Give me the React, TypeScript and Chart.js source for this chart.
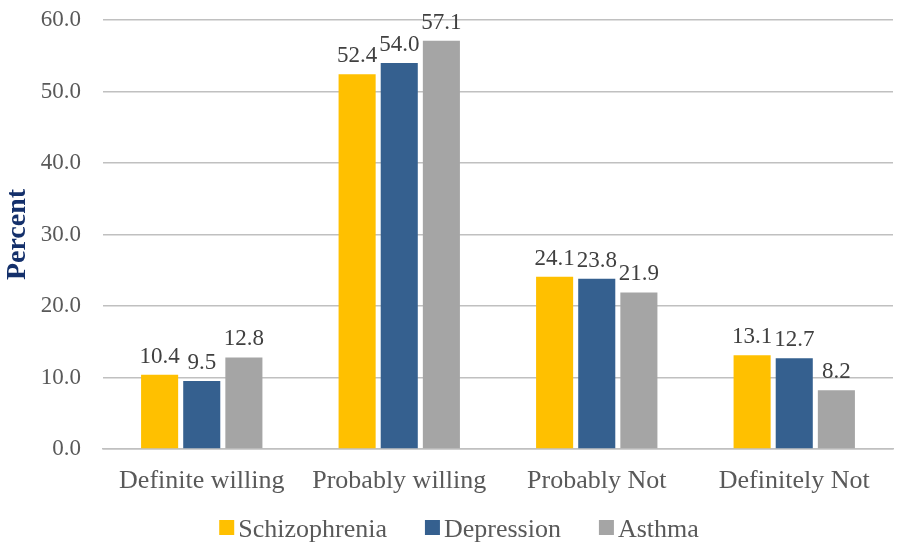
import React, { useEffect, useRef } from "react";
import { Chart, registerables } from "chart.js";

Chart.register(...registerables);

const categories = ["Definite willing", "Probably willing", "Probably Not", "Definitely Not"];
const seriesNames = ["Schizophrenia", "Depression", "Asthma"];
const schizophrenia = [10.4, 52.4, 24.1, 13.1];
const depression = [9.5, 54.0, 23.8, 12.7];
const asthma = [12.8, 57.1, 21.9, 8.2];
const yTicks = [0, 10, 20, 30, 40, 50, 60];

const seriesColors = ["#FFC000", "#35608F", "#A5A5A5"];
const FONT = "'Liberation Serif', 'Times New Roman', serif";
const TEXT = "#595959";
const GRID = "#c0c0c0";

// Value labels above each bar
const valueLabels = {
  id: "valueLabels",
  afterDatasetsDraw(chart: any) {
    const ctx = chart.ctx;
    ctx.save();
    ctx.font = `23px ${FONT}`;
    ctx.fillStyle = "#404040";
    ctx.textAlign = "center";
    ctx.textBaseline = "alphabetic";
    chart.data.datasets.forEach((ds: any, di: number) => {
      const meta = chart.getDatasetMeta(di);
      meta.data.forEach((bar: any, i: number) => {
        const v = ds.data[i] as number;
        ctx.fillText(v.toFixed(1), bar.x, bar.y - 12);
      });
    });
    ctx.restore();
  },
};

// Legend row under the category labels
const bottomLegend = {
  id: "bottomLegend",
  afterDraw(chart: any) {
    const ctx = chart.ctx;
    ctx.save();
    ctx.font = `26px ${FONT}`;
    ctx.textBaseline = "alphabetic";
    ctx.textAlign = "left";
    const box = 15;
    const gapBoxText = 4;
    const gapItems = 38;
    const items = chart.data.datasets.map((ds: any) => ({
      label: ds.label as string,
      color: ds.backgroundColor as string,
      w: ctx.measureText(ds.label).width,
    }));
    const total =
      items.reduce((s: number, it: any) => s + box + gapBoxText + it.w, 0) +
      gapItems * (items.length - 1);
    let x = 459 - total / 2;
    const baseline = 537;
    items.forEach((it: any) => {
      ctx.fillStyle = it.color;
      ctx.fillRect(x, baseline - box - 2, box, box);
      x += box + gapBoxText;
      ctx.fillStyle = TEXT;
      ctx.fillText(it.label, x, baseline);
      x += it.w + gapItems;
    });
    ctx.restore();
  },
};

export default function App() {
  const ref = useRef<HTMLCanvasElement>(null);

  useEffect(() => {
    if (!ref.current) return;
    const data = [schizophrenia, depression, asthma];
    const chart = new Chart(ref.current, {
      type: "bar",
      data: {
        labels: categories,
        datasets: seriesNames.map((name, i) => ({
          label: name,
          data: data[i],
          backgroundColor: seriesColors[i],
          borderWidth: 0,
          barPercentage: 0.88,
          categoryPercentage: 0.64,
        })),
      },
      options: {
        responsive: false,
        animation: false,
        layout: { autoPadding: false, padding: { left: 0, right: 8, top: 20, bottom: 46 } },
        plugins: {
          legend: { display: false },
          tooltip: { enabled: false },
        },
        scales: {
          x: {
            afterFit(scale: any) {
              scale.height = 50;
            },
            grid: { display: false },
            border: { display: true, color: GRID, width: 1.5 },
            ticks: {
              font: { family: FONT, size: 26 },
              color: TEXT,
              padding: 9,
              maxRotation: 0,
              autoSkip: false,
            },
          },
          y: {
            min: 0,
            max: 60,
            afterFit(scale: any) {
              scale.width = 103;
              scale.paddingTop = 0;
              scale.paddingBottom = 0;
            },
            afterBuildTicks(scale: any) {
              scale.ticks = yTicks.map((v) => ({ value: v }));
            },
            grid: { color: GRID, lineWidth: 1.5, drawTicks: false },
            border: { display: false },
            ticks: {
              font: { family: FONT, size: 23 },
              color: TEXT,
              padding: 22,
              callback: (v: any) => Number(v).toFixed(1),
            },
            title: {
              display: true,
              text: "Percent",
              color: "#14306B",
              font: { family: FONT, size: 28, weight: "bold" },
              padding: { top: 1, bottom: 6 },
            },
          },
        },
      },
      plugins: [valueLabels, bottomLegend],
    });
    return () => chart.destroy();
  }, []);

  return (
    <div style={{ position: "fixed", left: 0, top: 0, width: 901, height: 545, background: "#fff" }}>
      <canvas ref={ref} width={901} height={545} />
    </div>
  );
}
